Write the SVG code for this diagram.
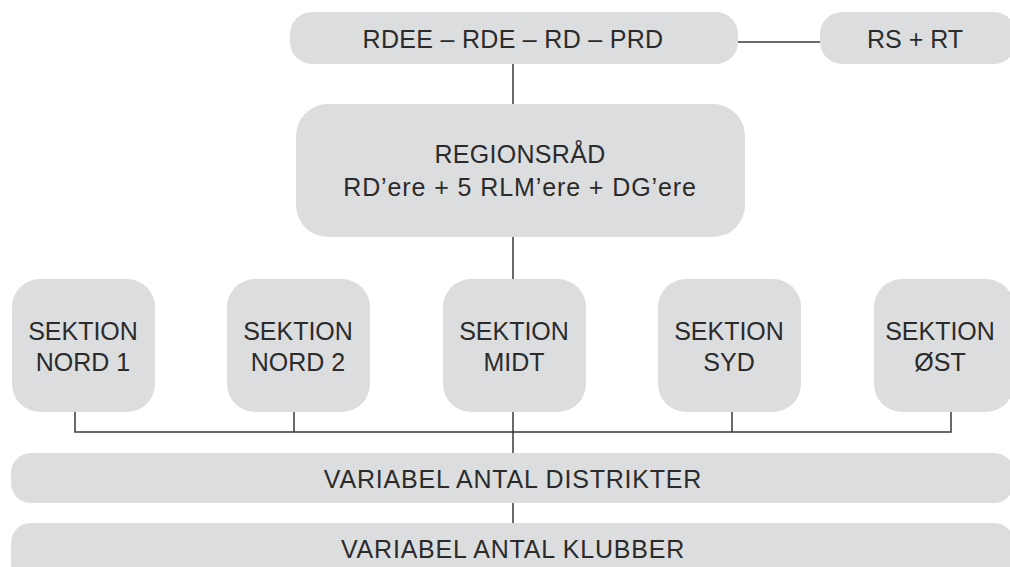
<svg xmlns="http://www.w3.org/2000/svg" width="1010" height="567" viewBox="0 0 1010 567">
<style>
.box{fill:#dcdddf;stroke:none}
.t{font-family:"Liberation Sans",Arial,sans-serif;font-size:25px;fill:#2b2b2b;text-anchor:middle}
.c{fill:none;stroke:#3a3a3a;stroke-width:1.5}
</style>
<rect width="1010" height="567" fill="#ffffff"/>
<g id="connectors">
<line class="c" x1="513" y1="64" x2="513" y2="104"/>
<line class="c" x1="738" y1="42" x2="820" y2="42"/>
<line class="c" x1="513" y1="237" x2="513" y2="279"/>
<polyline class="c" points="75,412 75,432 951,432 951,412"/>
<line class="c" x1="294" y1="412" x2="294" y2="432"/>
<line class="c" x1="732" y1="412" x2="732" y2="432"/>
<line class="c" x1="513" y1="412" x2="513" y2="453"/>
<line class="c" x1="513" y1="503" x2="513" y2="523"/>
</g>
<g id="top">
<rect class="box" x="290" y="12" width="448" height="52" rx="22"/>
<text class="t" x="513" y="48" font-size="27" letter-spacing="0.3">RDEE – RDE – RD – PRD</text>
</g>
<g id="rsrt">
<rect class="box" x="820" y="12" width="196" height="52" rx="22"/>
<text class="t" x="915" y="48" font-size="26">RS + RT</text>
</g>
<g id="regionsraad">
<rect class="box" x="296" y="104" width="449" height="133" rx="32"/>
<text class="t" x="520" y="163" letter-spacing="0.3">REGIONSRÅD</text>
<text class="t" x="520" y="196" letter-spacing="0.9">RD’ere + 5 RLM’ere + DG’ere</text>
</g>
<g id="nord1">
<rect class="box" x="12" y="279" width="143" height="133" rx="28"/>
<text class="t" x="83" y="340">SEKTION</text>
<text class="t" x="83" y="371">NORD 1</text>
</g>
<g id="nord2">
<rect class="box" x="227" y="279" width="143" height="133" rx="28"/>
<text class="t" x="298" y="340">SEKTION</text>
<text class="t" x="298" y="371">NORD 2</text>
</g>
<g id="midt">
<rect class="box" x="443" y="279" width="143" height="133" rx="28"/>
<text class="t" x="514" y="340">SEKTION</text>
<text class="t" x="514" y="371">MIDT</text>
</g>
<g id="syd">
<rect class="box" x="658" y="279" width="143" height="133" rx="28"/>
<text class="t" x="729" y="340">SEKTION</text>
<text class="t" x="729" y="371">SYD</text>
</g>
<g id="oest">
<rect class="box" x="874" y="279" width="140" height="133" rx="28"/>
<text class="t" x="940" y="340">SEKTION</text>
<text class="t" x="940" y="371">ØST</text>
</g>
<g id="distrikter">
<rect class="box" x="11" y="453" width="1003" height="50" rx="20"/>
<text class="t" x="513" y="488" font-size="23" letter-spacing="0.8">VARIABEL ANTAL DISTRIKTER</text>
</g>
<g id="klubber">
<rect class="box" x="11" y="523" width="1003" height="60" rx="20"/>
<text class="t" x="513" y="558" font-size="23" letter-spacing="0.8">VARIABEL ANTAL KLUBBER</text>
</g>
</svg>
